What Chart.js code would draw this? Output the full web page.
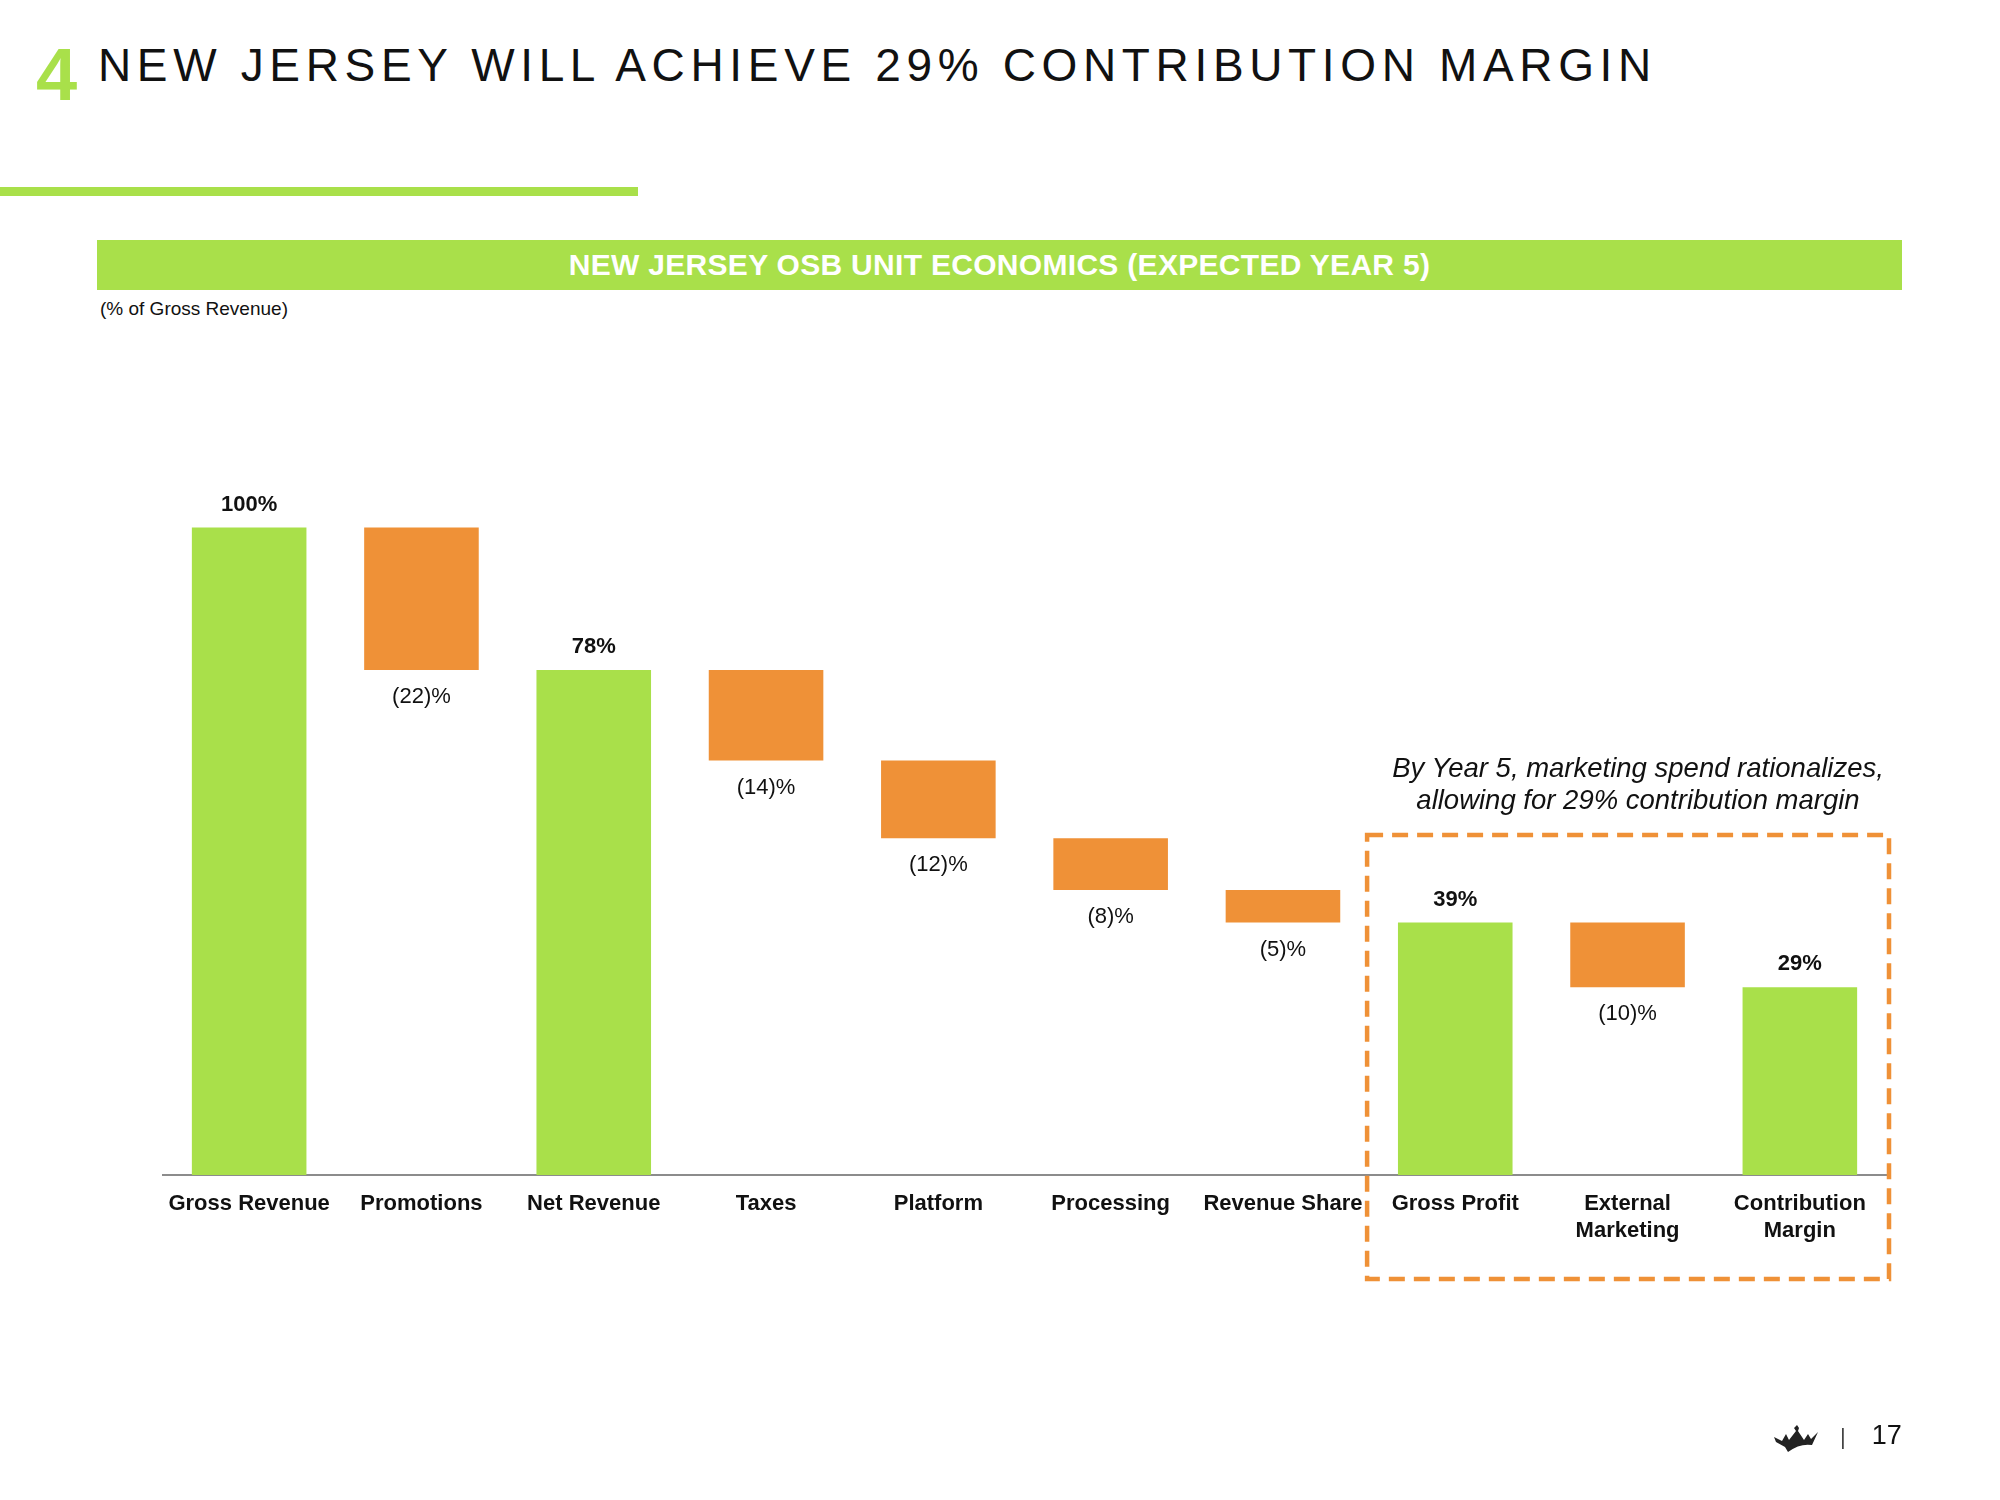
<!DOCTYPE html>
<html>
<head>
<meta charset="utf-8">
<script src="https://cdn.jsdelivr.net/npm/chart.js@4/dist/chart.umd.min.js"></script>
<style>
  html, body { margin: 0; padding: 0; background: #fff; }
  body { width: 2000px; height: 1500px; position: relative; overflow: hidden; font-family: "Liberation Sans", Arial, sans-serif; }
  #chartBox { position: absolute; left: 0; top: 0; width: 2000px; height: 1500px; }
  .abs { position: absolute; white-space: nowrap; }
  #num { left: 36px; top: 38px; font-size: 74px; font-weight: bold; color: #a9e04a; line-height: 1; }
  #title { left: 98px; top: 42px; font-size: 46px; letter-spacing: 5.65px; color: #111; line-height: 1; }
  #rule { left: 0; top: 187px; width: 638px; height: 9px; background: #a9e04a; }
  #band { left: 97px; top: 240px; width: 1805px; height: 50px; background: #a9e04a; color: #fff; font-weight: bold; font-size: 30px; letter-spacing: 0.3px; line-height: 50px; text-align: center; }
  #unit { left: 100px; top: 298px; font-size: 19px; color: #111; }
  #note { left: 1338px; width: 600px; top: 752px; font-size: 27.5px; font-style: italic; color: #111; text-align: center; line-height: 32px; }
  #page { left: 1840px; top: 1420px; font-size: 27px; color: #111; }
  #page span { color: #444; font-size: 22px; margin-right: 26px; }
  #crown { left: 1772px; top: 1425px; }
</style>
</head>
<body>
<div class="abs" id="num">4</div>
<div class="abs" id="title">NEW JERSEY WILL ACHIEVE 29% CONTRIBUTION MARGIN</div>
<div class="abs" id="rule"></div>
<div class="abs" id="band">NEW JERSEY OSB UNIT ECONOMICS (EXPECTED YEAR 5)</div>
<div class="abs" id="unit">(% of Gross Revenue)</div>
<div id="chartBox"><canvas id="chart"></canvas></div>
<div class="abs" id="note">By Year 5, marketing spend rationalizes,<br>allowing for 29% contribution margin</div>
<svg class="abs" id="crown" width="48" height="28" viewBox="0 0 48 28">
  <path d="M2 12 L10 16 L14 9 L17 15 L24 6 L22 3 L25 0 L27 3 L26 6 L32 15 L36 9 L39 14 L46 7 L40 20 Q28 18 16 27 L13 22 L4 17 Z" fill="#222"/>
</svg>
<div class="abs" id="page"><span>|</span>17</div>
<script>
const categories = ['Gross Revenue', 'Promotions', 'Net Revenue', 'Taxes', 'Platform', 'Processing',
  'Revenue Share', 'Gross Profit', ['External', 'Marketing'], ['Contribution', 'Margin']];
const steps = [100, -22, 78, -14, -12, -8, -5, 39, -10, 29];
const isTotal = [true, false, true, false, false, false, false, true, false, true];

const GREEN = '#a9e04a';
const ORANGE = '#ef9137';

// floating ranges for the waterfall
let level = 0;
const ranges = steps.map((v, i) => {
  if (isTotal[i]) { level = v; return [0, v]; }
  const r = [level + v, level];
  level += v;
  return r;
});

const fmt = (v, tot) => tot ? v + '%' : '(' + Math.abs(v) + ')%';

const labelPlugin = {
  id: 'labels',
  afterDatasetsDraw(chart) {
    const ctx = chart.ctx;
    const meta = chart.getDatasetMeta(0);
    ctx.save();
    ctx.fillStyle = '#111';
    ctx.textAlign = 'center';
    ctx.textBaseline = 'middle';
    meta.data.forEach((bar, i) => {
      const top = Math.min(bar.y, bar.base);
      const bottom = Math.max(bar.y, bar.base);
      if (isTotal[i]) {
        ctx.font = 'bold 22px "Liberation Sans", Arial, sans-serif';
        ctx.fillText(fmt(steps[i], true), bar.x, top - 23);
      } else {
        ctx.font = '22px "Liberation Sans", Arial, sans-serif';
        ctx.fillText(fmt(steps[i], false), bar.x, bottom + 27);
      }
    });

    // dashed highlight box around the last three bars
    const a = chart.chartArea;
    const left = (meta.data[6].x + meta.data[7].x) / 2 - 2;
    const right = a.right + 3;
    const top = chart.scales.y.getPixelForValue(52.5);
    const bottom = a.bottom + 104;
    ctx.strokeStyle = ORANGE;
    ctx.lineWidth = 4.5;
    ctx.setLineDash([16, 9]);
    ctx.strokeRect(left, top, right - left, bottom - top);
    ctx.restore();
  }
};

new Chart(document.getElementById('chart'), {
  type: 'bar',
  data: {
    labels: categories,
    datasets: [{
      data: ranges,
      backgroundColor: isTotal.map(t => t ? GREEN : ORANGE),
      borderWidth: 0,
      barPercentage: 0.665,
      categoryPercentage: 1
    }]
  },
  options: {
    responsive: true,
    maintainAspectRatio: false,
    animation: false,
    layout: { padding: { left: 163, right: 114, top: 398, bottom: 245 } },
    plugins: { legend: { display: false }, tooltip: { enabled: false } },
    scales: {
      x: {
        grid: { display: false },
        border: { display: true, color: '#8c8c8c', width: 2 },
        ticks: {
          color: '#111',
          padding: 8,
          maxRotation: 0,
          autoSkip: false,
          font: { family: '"Liberation Sans", Arial, sans-serif', size: 22, weight: 'bold', lineHeight: 1.2 }
        },
        afterFit(scale) { scale.height = 80; }
      },
      y: { display: false, min: 0, max: 120 }
    }
  },
  plugins: [labelPlugin]
});
</script>
</body>
</html>
